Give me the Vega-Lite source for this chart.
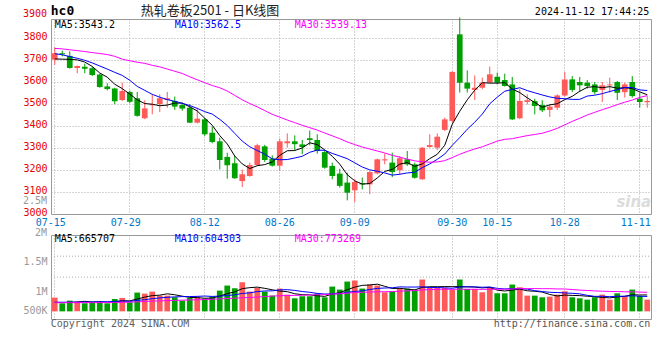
{
"$schema": "https://vega.github.io/schema/vega-lite/v6.json",
"padding": {"left": 22, "top": 4, "right": 0, "bottom": 0},
"background": "white",
"bounds": "flush",
"spacing": 21,
"config": {"view": {"stroke": "#999", "strokeWidth": 1}},
"datasets": {
"k": [
{"d":"07-15","o":3703,"h":3759,"l":3679,"c":3732,"v":558000,"m5":3706,"m10":3730,"m30":3754,"a5":360000,"a10":372000,"a30":354000},
{"d":"07-16","o":3732,"h":3744,"l":3718,"c":3727,"v":326000,"m5":3705,"m10":3725,"m30":3752,"a5":358000,"a10":370000,"a30":354000},
{"d":"07-17","o":3720,"h":3741,"l":3662,"c":3665,"v":435000,"m5":3704,"m10":3717,"m30":3748,"a5":362000,"a10":372000,"a30":354000},
{"d":"07-18","o":3665,"h":3676,"l":3641,"c":3674,"v":394000,"m5":3702,"m10":3709,"m30":3744,"a5":380000,"a10":375000,"a30":354000},
{"d":"07-19","o":3670,"h":3685,"l":3641,"c":3661,"v":326000,"m5":3692,"m10":3700,"m30":3740,"a5":408000,"a10":378000,"a30":355000},
{"d":"07-22","o":3664,"h":3670,"l":3628,"c":3633,"v":394000,"m5":3672,"m10":3688,"m30":3735,"a5":375000,"a10":382000,"a30":355000},
{"d":"07-23","o":3635,"h":3638,"l":3575,"c":3578,"v":394000,"m5":3642,"m10":3674,"m30":3731,"a5":389000,"a10":386000,"a30":356000},
{"d":"07-24","o":3581,"h":3595,"l":3563,"c":3569,"v":326000,"m5":3623,"m10":3660,"m30":3726,"a5":367000,"a10":390000,"a30":358000},
{"d":"07-25","o":3572,"h":3575,"l":3500,"c":3514,"v":503000,"m5":3591,"m10":3645,"m30":3718,"a5":389000,"a10":400000,"a30":362000},
{"d":"07-26","o":3519,"h":3598,"l":3515,"c":3560,"v":544000,"m5":3571,"m10":3631,"m30":3705,"a5":432000,"a10":420000,"a30":368000},
{"d":"07-29","o":3556,"h":3562,"l":3505,"c":3511,"v":367000,"m5":3546,"m10":3609,"m30":3698,"a5":427000,"a10":401000,"a30":375000},
{"d":"07-30","o":3527,"h":3556,"l":3443,"c":3447,"v":762000,"m5":3520,"m10":3581,"m30":3691,"a5":500000,"a10":445000,"a30":385000},
{"d":"07-31","o":3436,"h":3518,"l":3432,"c":3481,"v":721000,"m5":3503,"m10":3563,"m30":3686,"a5":579000,"a10":473000,"a30":400000},
{"d":"08-01","o":3495,"h":3545,"l":3454,"c":3500,"v":802000,"m5":3500,"m10":3545,"m30":3677,"a5":639000,"a10":514000,"a30":415000},
{"d":"08-02","o":3500,"h":3545,"l":3464,"c":3527,"v":639000,"m5":3493,"m10":3532,"m30":3670,"a5":658000,"a10":545000,"a30":425000},
{"d":"08-05","o":3519,"h":3556,"l":3484,"c":3527,"v":639000,"m5":3496,"m10":3521,"m30":3660,"a5":713000,"a10":570000,"a30":435000},
{"d":"08-06","o":3515,"h":3535,"l":3474,"c":3489,"v":571000,"m5":3505,"m10":3513,"m30":3650,"a5":674000,"a10":587000,"a30":445000},
{"d":"08-07","o":3496,"h":3507,"l":3470,"c":3480,"v":435000,"m5":3505,"m10":3504,"m30":3640,"a5":617000,"a10":598000,"a30":455000},
{"d":"08-08","o":3484,"h":3500,"l":3414,"c":3416,"v":544000,"m5":3488,"m10":3494,"m30":3625,"a5":566000,"a10":602000,"a30":462000},
{"d":"08-09","o":3416,"h":3484,"l":3412,"c":3434,"v":598000,"m5":3469,"m10":3481,"m30":3611,"a5":557000,"a10":608000,"a30":470000},
{"d":"08-12","o":3431,"h":3437,"l":3355,"c":3363,"v":517000,"m5":3436,"m10":3466,"m30":3598,"a5":533000,"a10":623000,"a30":480000},
{"d":"08-13","o":3370,"h":3398,"l":3322,"c":3328,"v":598000,"m5":3404,"m10":3455,"m30":3585,"a5":538000,"a10":606000,"a30":490000},
{"d":"08-14","o":3331,"h":3348,"l":3203,"c":3246,"v":843000,"m5":3357,"m10":3431,"m30":3575,"a5":620000,"a10":619000,"a30":505000},
{"d":"08-15","o":3260,"h":3279,"l":3161,"c":3222,"v":1047000,"m5":3319,"m10":3403,"m30":3560,"a5":721000,"a10":643000,"a30":520000},
{"d":"08-16","o":3231,"h":3264,"l":3160,"c":3163,"v":938000,"m5":3264,"m10":3367,"m30":3540,"a5":789000,"a10":673000,"a30":535000},
{"d":"08-19","o":3150,"h":3203,"l":3123,"c":3181,"v":1183000,"m5":3228,"m10":3332,"m30":3520,"a5":922000,"a10":727000,"a30":550000},
{"d":"08-20","o":3173,"h":3234,"l":3170,"c":3223,"v":802000,"m5":3207,"m10":3306,"m30":3503,"a5":963000,"a10":751000,"a30":565000},
{"d":"08-21","o":3223,"h":3320,"l":3219,"c":3313,"v":952000,"m5":3220,"m10":3289,"m30":3488,"a5":984000,"a10":802000,"a30":580000},
{"d":"08-22","o":3308,"h":3315,"l":3237,"c":3246,"v":802000,"m5":3225,"m10":3272,"m30":3471,"a5":935000,"a10":828000,"a30":600000},
{"d":"08-23","o":3252,"h":3267,"l":3216,"c":3220,"v":639000,"m5":3237,"m10":3251,"m30":3454,"a5":876000,"a10":832000,"a30":620000},
{"d":"08-26","o":3220,"h":3343,"l":3196,"c":3331,"v":925000,"m5":3267,"m10":3247,"m30":3441,"a5":824000,"a10":873000,"a30":632000},
{"d":"08-27","o":3322,"h":3367,"l":3302,"c":3331,"v":680000,"m5":3288,"m10":3248,"m30":3428,"a5":800000,"a10":881000,"a30":644000},
{"d":"08-28","o":3331,"h":3358,"l":3290,"c":3318,"v":530000,"m5":3289,"m10":3255,"m30":3416,"a5":715000,"a10":850000,"a30":647000},
{"d":"08-29","o":3317,"h":3337,"l":3272,"c":3305,"v":612000,"m5":3301,"m10":3263,"m30":3404,"a5":677000,"a10":806000,"a30":654000},
{"d":"08-30","o":3345,"h":3380,"l":3313,"c":3337,"v":612000,"m5":3324,"m10":3281,"m30":3393,"a5":672000,"a10":774000,"a30":664000},
{"d":"09-02","o":3337,"h":3363,"l":3275,"c":3287,"v":721000,"m5":3316,"m10":3291,"m30":3382,"a5":631000,"a10":728000,"a30":675000},
{"d":"09-03","o":3282,"h":3290,"l":3206,"c":3211,"v":571000,"m5":3292,"m10":3290,"m30":3369,"a5":609000,"a10":704000,"a30":681000},
{"d":"09-04","o":3219,"h":3234,"l":3158,"c":3173,"v":1006000,"m5":3263,"m10":3276,"m30":3356,"a5":704000,"a10":710000,"a30":703000},
{"d":"09-05","o":3184,"h":3206,"l":3120,"c":3128,"v":884000,"m5":3227,"m10":3264,"m30":3343,"a5":759000,"a10":718000,"a30":716000},
{"d":"09-06","o":3143,"h":3188,"l":3062,"c":3097,"v":1210000,"m5":3179,"m10":3252,"m30":3328,"a5":878000,"a10":775000,"a30":738000},
{"d":"09-09","o":3108,"h":3158,"l":3055,"c":3146,"v":1251000,"m5":3151,"m10":3233,"m30":3316,"a5":984000,"a10":808000,"a30":768000},
{"d":"09-10","o":3140,"h":3166,"l":3112,"c":3135,"v":925000,"m5":3136,"m10":3214,"m30":3305,"a5":1055000,"a10":832000,"a30":773000},
{"d":"09-11","o":3135,"h":3196,"l":3090,"c":3191,"v":1088000,"m5":3139,"m10":3201,"m30":3296,"a5":1072000,"a10":888000,"a30":785000},
{"d":"09-12","o":3185,"h":3252,"l":3181,"c":3249,"v":1047000,"m5":3164,"m10":3195,"m30":3287,"a5":1104000,"a10":932000,"a30":794000},
{"d":"09-13","o":3244,"h":3276,"l":3226,"c":3249,"v":775000,"m5":3194,"m10":3187,"m30":3278,"a5":1017000,"a10":948000,"a30":798000},
{"d":"09-18","o":3234,"h":3279,"l":3168,"c":3191,"v":816000,"m5":3203,"m10":3177,"m30":3267,"a5":930000,"a10":957000,"a30":804000},
{"d":"09-19","o":3199,"h":3264,"l":3178,"c":3254,"v":952000,"m5":3227,"m10":3181,"m30":3259,"a5":936000,"a10":995000,"a30":817000},
{"d":"09-20","o":3249,"h":3287,"l":3219,"c":3226,"v":925000,"m5":3234,"m10":3187,"m30":3250,"a5":903000,"a10":987000,"a30":833000},
{"d":"09-23","o":3226,"h":3234,"l":3161,"c":3165,"v":884000,"m5":3217,"m10":3190,"m30":3242,"a5":870000,"a10":987000,"a30":844000},
{"d":"09-24","o":3158,"h":3305,"l":3156,"c":3302,"v":1292000,"m5":3228,"m10":3211,"m30":3238,"a5":974000,"a10":996000,"a30":868000},
{"d":"09-25","o":3305,"h":3363,"l":3302,"c":3314,"v":952000,"m5":3252,"m10":3228,"m30":3236,"a5":1001000,"a10":966000,"a30":882000},
{"d":"09-26","o":3302,"h":3367,"l":3291,"c":3352,"v":952000,"m5":3272,"m10":3249,"m30":3237,"a5":1001000,"a10":968000,"a30":894000},
{"d":"09-27","o":3383,"h":3439,"l":3378,"c":3431,"v":952000,"m5":3313,"m10":3273,"m30":3243,"a5":1006000,"a10":955000,"a30":898000},
{"d":"09-30","o":3424,"h":3650,"l":3416,"c":3647,"v":870000,"m5":3409,"m10":3313,"m30":3257,"a5":1004000,"a10":937000,"a30":892000},
{"d":"10-08","o":3818,"h":3895,"l":3553,"c":3598,"v":1292000,"m5":3468,"m10":3348,"m30":3272,"a5":1004000,"a10":989000,"a30":903000},
{"d":"10-09","o":3598,"h":3654,"l":3553,"c":3571,"v":911000,"m5":3520,"m10":3386,"m30":3285,"a5":995000,"a10":998000,"a30":894000},
{"d":"10-10","o":3565,"h":3631,"l":3519,"c":3575,"v":911000,"m5":3564,"m10":3418,"m30":3296,"a5":987000,"a10":994000,"a30":898000},
{"d":"10-11","o":3575,"h":3621,"l":3568,"c":3598,"v":775000,"m5":3598,"m10":3455,"m30":3306,"a5":952000,"a10":979000,"a30":892000},
{"d":"10-14","o":3598,"h":3671,"l":3595,"c":3636,"v":979000,"m5":3596,"m10":3502,"m30":3319,"a5":974000,"a10":989000,"a30":898000},
{"d":"10-15","o":3625,"h":3644,"l":3590,"c":3598,"v":734000,"m5":3596,"m10":3532,"m30":3332,"a5":862000,"a10":933000,"a30":901000},
{"d":"10-16","o":3610,"h":3639,"l":3580,"c":3583,"v":734000,"m5":3598,"m10":3559,"m30":3340,"a5":827000,"a10":911000,"a30":895000},
{"d":"10-17","o":3590,"h":3624,"l":3428,"c":3431,"v":1088000,"m5":3569,"m10":3567,"m30":3343,"a5":862000,"a10":925000,"a30":908000},
{"d":"10-18","o":3436,"h":3568,"l":3432,"c":3515,"v":979000,"m5":3553,"m10":3575,"m30":3350,"a5":903000,"a10":927000,"a30":923000},
{"d":"10-21","o":3510,"h":3545,"l":3499,"c":3518,"v":639000,"m5":3529,"m10":3562,"m30":3357,"a5":835000,"a10":904000,"a30":924000},
{"d":"10-22","o":3514,"h":3525,"l":3454,"c":3492,"v":639000,"m5":3508,"m10":3552,"m30":3362,"a5":816000,"a10":839000,"a30":925000},
{"d":"10-23","o":3496,"h":3518,"l":3464,"c":3472,"v":571000,"m5":3486,"m10":3542,"m30":3368,"a5":783000,"a10":805000,"a30":920000},
{"d":"10-24","o":3474,"h":3499,"l":3442,"c":3489,"v":598000,"m5":3497,"m10":3533,"m30":3378,"a5":685000,"a10":774000,"a30":921000},
{"d":"10-25","o":3484,"h":3545,"l":3474,"c":3540,"v":680000,"m5":3502,"m10":3527,"m30":3390,"a5":625000,"a10":764000,"a30":910000},
{"d":"10-28","o":3540,"h":3647,"l":3534,"c":3613,"v":816000,"m5":3521,"m10":3525,"m30":3406,"a5":661000,"a10":748000,"a30":908000},
{"d":"10-29","o":3613,"h":3628,"l":3555,"c":3565,"v":571000,"m5":3536,"m10":3522,"m30":3422,"a5":647000,"a10":732000,"a30":887000},
{"d":"10-30","o":3601,"h":3624,"l":3555,"c":3586,"v":530000,"m5":3559,"m10":3522,"m30":3436,"a5":639000,"a10":711000,"a30":863000},
{"d":"10-31","o":3598,"h":3610,"l":3571,"c":3583,"v":476000,"m5":3577,"m10":3537,"m30":3451,"a5":615000,"a10":650000,"a30":848000},
{"d":"11-01","o":3590,"h":3601,"l":3545,"c":3555,"v":571000,"m5":3580,"m10":3541,"m30":3463,"a5":593000,"a10":609000,"a30":830000},
{"d":"11-04","o":3565,"h":3601,"l":3510,"c":3586,"v":680000,"m5":3575,"m10":3548,"m30":3475,"a5":566000,"a10":613000,"a30":818000},
{"d":"11-05","o":3586,"h":3621,"l":3552,"c":3590,"v":476000,"m5":3580,"m10":3558,"m30":3486,"a5":547000,"a10":597000,"a30":808000},
{"d":"11-06","o":3601,"h":3606,"l":3519,"c":3552,"v":734000,"m5":3573,"m10":3566,"m30":3498,"a5":587000,"a10":613000,"a30":805000},
{"d":"11-07","o":3555,"h":3598,"l":3530,"c":3590,"v":598000,"m5":3575,"m10":3576,"m30":3509,"a5":612000,"a10":613000,"a30":794000},
{"d":"11-08","o":3601,"h":3628,"l":3530,"c":3537,"v":884000,"m5":3571,"m10":3576,"m30":3519,"a5":674000,"a10":634000,"a30":792000},
{"d":"11-11","o":3525,"h":3553,"l":3484,"c":3510,"v":626000,"m5":3556,"m10":3565,"m30":3531,"a5":664000,"a10":615000,"a30":784000},
{"d":"11-12","o":3509,"h":3537,"l":3484,"c":3515,"v":476000,"m5":3543.2,"m10":3562.5,"m30":3539.13,"a5":665707,"a10":604303,"a30":773269}
],
"vg": [{"g": 2240000}, {"g": 1390000}]
},
"vconcat": [
{
"width": 600, "height": 195,
"data": {"name": "k"},
"encoding": {
  "x": {"field": "d", "type": "ordinal", "title": null, "scale": {"type": "band", "paddingInner": 0, "paddingOuter": 0},
   "axis": {"values": ["07-15","07-29","08-12","08-26","09-09","09-30","10-15","10-28","11-11"], "bandPosition": 0.5, "grid": true, "gridColor": "#aaaaaa", "gridDash": [1, 2], "ticks": false, "domain": false, "labelAngle": 0, "labelOverlap": false, "labelColor": "#0078c8", "labelFont": "DejaVu Sans Mono", "labelFontSize": 10, "labelPadding": 3, "labelOffset": {"condition": {"test": "datum.value == '07-15' || datum.value == '07-29' || datum.value == '11-11'", "value": -4}, "value": 0}, "title": null}}
},
"layer": [
{"mark": {"type": "rule", "strokeWidth": 1},
 "encoding": {
  "y": {"field": "l", "type": "quantitative", "title": null, "scale": {"domain": [3000, 3888], "nice": false, "zero": false},
   "axis": {"values": [3000,3100,3200,3300,3400,3500,3600,3700,3800], "format": "d", "labelOverlap": false, "grid": true, "gridColor": "#aaaaaa", "gridDash": [1, 2], "gridOpacity": {"condition": {"test": "datum.value < 3050", "value": 0}, "value": 1}, "ticks": false, "domain": false, "labelColor": "#e60000", "labelFont": "DejaVu Sans Mono", "labelFontSize": 10, "labelPadding": 4, "labelOffset": -2, "title": null}},
  "y2": {"field": "h"},
  "color": {"condition": {"test": "datum.c >= datum.o", "value": "#ff5a5a"}, "value": "#00a000"}}},
{"mark": {"type": "bar", "width": {"band": 0.76}},
 "encoding": {
  "y": {"field": "o", "type": "quantitative", "title": null, "scale": {"domain": [3000, 3888], "nice": false, "zero": false},
   "axis": {"values": [3000,3100,3200,3300,3400,3500,3600,3700,3800], "format": "d", "labelOverlap": false, "grid": true, "gridColor": "#aaaaaa", "gridDash": [1, 2], "gridOpacity": {"condition": {"test": "datum.value < 3050", "value": 0}, "value": 1}, "ticks": false, "domain": false, "labelColor": "#e60000", "labelFont": "DejaVu Sans Mono", "labelFontSize": 10, "labelPadding": 4, "labelOffset": -2, "title": null}},
  "y2": {"field": "c"},
  "color": {"condition": {"test": "datum.c >= datum.o", "value": "#ff5a5a"}, "value": "#00a000"}}},
{"mark": {"type": "line", "color": "#000000", "strokeWidth": 1},
 "encoding": {"y": {"field": "m5", "type": "quantitative", "title": null, "scale": {"domain": [3000, 3888], "nice": false, "zero": false},
   "axis": {"values": [3000,3100,3200,3300,3400,3500,3600,3700,3800], "format": "d", "labelOverlap": false, "grid": true, "gridColor": "#aaaaaa", "gridDash": [1, 2], "gridOpacity": {"condition": {"test": "datum.value < 3050", "value": 0}, "value": 1}, "ticks": false, "domain": false, "labelColor": "#e60000", "labelFont": "DejaVu Sans Mono", "labelFontSize": 10, "labelPadding": 4, "labelOffset": -2, "title": null}}}},
{"mark": {"type": "line", "color": "#0000ff", "strokeWidth": 1},
 "encoding": {"y": {"field": "m10", "type": "quantitative", "title": null, "scale": {"domain": [3000, 3888], "nice": false, "zero": false},
   "axis": {"values": [3000,3100,3200,3300,3400,3500,3600,3700,3800], "format": "d", "labelOverlap": false, "grid": true, "gridColor": "#aaaaaa", "gridDash": [1, 2], "gridOpacity": {"condition": {"test": "datum.value < 3050", "value": 0}, "value": 1}, "ticks": false, "domain": false, "labelColor": "#e60000", "labelFont": "DejaVu Sans Mono", "labelFontSize": 10, "labelPadding": 4, "labelOffset": -2, "title": null}}}},
{"mark": {"type": "line", "color": "#ff00ff", "strokeWidth": 1},
 "encoding": {"y": {"field": "m30", "type": "quantitative", "title": null, "scale": {"domain": [3000, 3888], "nice": false, "zero": false},
   "axis": {"values": [3000,3100,3200,3300,3400,3500,3600,3700,3800], "format": "d", "labelOverlap": false, "grid": true, "gridColor": "#aaaaaa", "gridDash": [1, 2], "gridOpacity": {"condition": {"test": "datum.value < 3050", "value": 0}, "value": 1}, "ticks": false, "domain": false, "labelColor": "#e60000", "labelFont": "DejaVu Sans Mono", "labelFontSize": 10, "labelPadding": 4, "labelOffset": -2, "title": null}}}},
{"data": {"values": [{"t": "sina", "d": "11-12", "y": 3030}]},
 "mark": {"type": "text", "align": "right", "baseline": "alphabetic", "dx": 4, "font": "DejaVu Sans", "fontWeight": "bold", "fontStyle": "italic", "fontSize": 15, "color": "#dcdcdc"},
 "encoding": {"y": {"field": "y", "type": "quantitative", "title": null, "scale": {"domain": [3000, 3888], "nice": false, "zero": false},
   "axis": {"values": [3000,3100,3200,3300,3400,3500,3600,3700,3800], "format": "d", "labelOverlap": false, "grid": true, "gridColor": "#aaaaaa", "gridDash": [1, 2], "gridOpacity": {"condition": {"test": "datum.value < 3050", "value": 0}, "value": 1}, "ticks": false, "domain": false, "labelColor": "#e60000", "labelFont": "DejaVu Sans Mono", "labelFontSize": 10, "labelPadding": 4, "labelOffset": -2, "title": null}},
  "text": {"field": "t", "type": "nominal"}}},
{"data": {"values": [
   {"t": "MA5:3543.2", "d": "07-15", "y": 3860, "col": "a"},
   {"t": "MA10:3562.5", "d": "08-06", "y": 3860, "col": "b"},
   {"t": "MA30:3539.13", "d": "08-28", "y": 3860, "col": "c"}
 ]},
 "mark": {"type": "text", "align": "left", "baseline": "middle", "font": "DejaVu Sans Mono", "fontSize": 10},
 "encoding": {"y": {"field": "y", "type": "quantitative", "title": null, "scale": {"domain": [3000, 3888], "nice": false, "zero": false},
   "axis": {"values": [3000,3100,3200,3300,3400,3500,3600,3700,3800], "format": "d", "labelOverlap": false, "grid": true, "gridColor": "#aaaaaa", "gridDash": [1, 2], "gridOpacity": {"condition": {"test": "datum.value < 3050", "value": 0}, "value": 1}, "ticks": false, "domain": false, "labelColor": "#e60000", "labelFont": "DejaVu Sans Mono", "labelFontSize": 10, "labelPadding": 4, "labelOffset": -2, "title": null}},
  "text": {"field": "t", "type": "nominal"},
  "color": {"field": "col", "type": "nominal", "scale": {"domain": ["a", "b", "c"], "range": ["#000000", "#0000ff", "#ff00ff"]}, "legend": null}}},
{"data": {"values": [{"t": "2024-11-12 17:44:25", "d": "11-12", "y": 3919}]},
 "mark": {"type": "text", "align": "right", "baseline": "middle", "dx": 2, "font": "DejaVu Sans Mono", "fontSize": 10, "color": "#000000"},
 "encoding": {"y": {"field": "y", "type": "quantitative", "title": null, "scale": {"domain": [3000, 3888], "nice": false, "zero": false},
   "axis": {"values": [3000,3100,3200,3300,3400,3500,3600,3700,3800], "format": "d", "labelOverlap": false, "grid": true, "gridColor": "#aaaaaa", "gridDash": [1, 2], "gridOpacity": {"condition": {"test": "datum.value < 3050", "value": 0}, "value": 1}, "ticks": false, "domain": false, "labelColor": "#e60000", "labelFont": "DejaVu Sans Mono", "labelFontSize": 10, "labelPadding": 4, "labelOffset": -2, "title": null}},
  "text": {"field": "t", "type": "nominal"}}},
{"data": {"values": [{"t": "3900", "d": "07-15", "y": 3900}]},
 "mark": {"type": "text", "align": "right", "baseline": "middle", "dx": -7.75, "dy": -2, "font": "DejaVu Sans Mono", "fontSize": 10, "color": "#e60000"},
 "encoding": {"y": {"field": "y", "type": "quantitative", "title": null, "scale": {"domain": [3000, 3888], "nice": false, "zero": false},
   "axis": {"values": [3000,3100,3200,3300,3400,3500,3600,3700,3800], "format": "d", "labelOverlap": false, "grid": true, "gridColor": "#aaaaaa", "gridDash": [1, 2], "gridOpacity": {"condition": {"test": "datum.value < 3050", "value": 0}, "value": 1}, "ticks": false, "domain": false, "labelColor": "#e60000", "labelFont": "DejaVu Sans Mono", "labelFontSize": 10, "labelPadding": 4, "labelOffset": -2, "title": null}},
  "text": {"field": "t", "type": "nominal"}}},
{"data": {"values": [{"t": "hc0", "d": "07-15", "y": 3925}]},
 "mark": {"type": "text", "align": "left", "baseline": "middle", "dx": -4, "font": "DejaVu Sans Mono", "fontWeight": "bold", "fontSize": 13, "color": "#000000"},
 "encoding": {"y": {"field": "y", "type": "quantitative", "title": null, "scale": {"domain": [3000, 3888], "nice": false, "zero": false},
   "axis": {"values": [3000,3100,3200,3300,3400,3500,3600,3700,3800], "format": "d", "labelOverlap": false, "grid": true, "gridColor": "#aaaaaa", "gridDash": [1, 2], "gridOpacity": {"condition": {"test": "datum.value < 3050", "value": 0}, "value": 1}, "ticks": false, "domain": false, "labelColor": "#e60000", "labelFont": "DejaVu Sans Mono", "labelFontSize": 10, "labelPadding": 4, "labelOffset": -2, "title": null}},
  "text": {"field": "t", "type": "nominal"}}},
{"data": {"values": [{"t": "热轧卷板2501 - 日K线图", "d": "07-31", "y": 3926}]},
 "mark": {"type": "text", "align": "left", "baseline": "middle", "dx": -4, "font": "Noto Sans CJK SC", "fontSize": 13, "color": "#222222"},
 "encoding": {"y": {"field": "y", "type": "quantitative", "title": null, "scale": {"domain": [3000, 3888], "nice": false, "zero": false},
   "axis": {"values": [3000,3100,3200,3300,3400,3500,3600,3700,3800], "format": "d", "labelOverlap": false, "grid": true, "gridColor": "#aaaaaa", "gridDash": [1, 2], "gridOpacity": {"condition": {"test": "datum.value < 3050", "value": 0}, "value": 1}, "ticks": false, "domain": false, "labelColor": "#e60000", "labelFont": "DejaVu Sans Mono", "labelFontSize": 10, "labelPadding": 4, "labelOffset": -2, "title": null}},
  "text": {"field": "t", "type": "nominal"}}}
]
},
{
"width": 600, "height": 84,
"data": {"name": "k"},
"encoding": {
  "x": {"field": "d", "type": "ordinal", "title": null, "scale": {"type": "band", "paddingInner": 0, "paddingOuter": 0},
   "axis": {"values": ["07-15","07-29","08-12","08-26","09-09","09-30","10-15","10-28","11-11"], "bandPosition": 0.5, "grid": true, "gridColor": "#aaaaaa", "gridDash": [1, 2], "ticks": false, "domain": false, "labels": false, "title": null}}
},
"layer": [
{"mark": {"type": "bar", "width": {"band": 0.76}},
 "encoding": {
  "y": {"field": "v", "type": "quantitative", "title": null, "scale": {"domain": [-310000, 3100000], "nice": false, "zero": false},
   "axis": {"values": [2024000, 807000, 35000], "labelExpr": "datum.value > 1500000 ? '1.5M' : datum.value > 500000 ? '1M' : '500K'", "labelOverlap": false, "grid": false, "ticks": false, "domain": false, "labelColor": "#999999", "labelFont": "DejaVu Sans Mono", "labelFontSize": 10, "labelPadding": 4, "title": null}},
  "y2": {"datum": 0},
  "color": {"condition": {"test": "datum.c >= datum.o", "value": "#ff5a5a"}, "value": "#00a000"}}},
{"data": {"name": "vg"},
 "mark": {"type": "rule", "color": "#aaaaaa", "strokeDash": [1, 2], "strokeWidth": 1, "x": 0, "x2": {"expr": "width"}},
 "encoding": {"x": null, "y": {"field": "g", "type": "quantitative", "title": null, "scale": {"domain": [-310000, 3100000], "nice": false, "zero": false},
   "axis": {"values": [2024000, 807000, 35000], "labelExpr": "datum.value > 1500000 ? '1.5M' : datum.value > 500000 ? '1M' : '500K'", "labelOverlap": false, "grid": false, "ticks": false, "domain": false, "labelColor": "#999999", "labelFont": "DejaVu Sans Mono", "labelFontSize": 10, "labelPadding": 4, "title": null}}}},
{"mark": {"type": "line", "color": "#000000", "strokeWidth": 1},
 "encoding": {"y": {"field": "a5", "type": "quantitative", "title": null, "scale": {"domain": [-310000, 3100000], "nice": false, "zero": false},
   "axis": {"values": [2024000, 807000, 35000], "labelExpr": "datum.value > 1500000 ? '1.5M' : datum.value > 500000 ? '1M' : '500K'", "labelOverlap": false, "grid": false, "ticks": false, "domain": false, "labelColor": "#999999", "labelFont": "DejaVu Sans Mono", "labelFontSize": 10, "labelPadding": 4, "title": null}}}},
{"mark": {"type": "line", "color": "#0000ff", "strokeWidth": 1},
 "encoding": {"y": {"field": "a10", "type": "quantitative", "title": null, "scale": {"domain": [-310000, 3100000], "nice": false, "zero": false},
   "axis": {"values": [2024000, 807000, 35000], "labelExpr": "datum.value > 1500000 ? '1.5M' : datum.value > 500000 ? '1M' : '500K'", "labelOverlap": false, "grid": false, "ticks": false, "domain": false, "labelColor": "#999999", "labelFont": "DejaVu Sans Mono", "labelFontSize": 10, "labelPadding": 4, "title": null}}}},
{"mark": {"type": "line", "color": "#ff00ff", "strokeWidth": 1},
 "encoding": {"y": {"field": "a30", "type": "quantitative", "title": null, "scale": {"domain": [-310000, 3100000], "nice": false, "zero": false},
   "axis": {"values": [2024000, 807000, 35000], "labelExpr": "datum.value > 1500000 ? '1.5M' : datum.value > 500000 ? '1M' : '500K'", "labelOverlap": false, "grid": false, "ticks": false, "domain": false, "labelColor": "#999999", "labelFont": "DejaVu Sans Mono", "labelFontSize": 10, "labelPadding": 4, "title": null}}}},
{"data": {"values": [
   {"t": "MA5:665707", "d": "07-15", "y": 2938000, "col": "a"},
   {"t": "MA10:604303", "d": "08-06", "y": 2938000, "col": "b"},
   {"t": "MA30:773269", "d": "08-28", "y": 2938000, "col": "c"}
 ]},
 "mark": {"type": "text", "align": "left", "baseline": "middle", "font": "DejaVu Sans Mono", "fontSize": 10},
 "encoding": {"y": {"field": "y", "type": "quantitative", "title": null, "scale": {"domain": [-310000, 3100000], "nice": false, "zero": false},
   "axis": {"values": [2024000, 807000, 35000], "labelExpr": "datum.value > 1500000 ? '1.5M' : datum.value > 500000 ? '1M' : '500K'", "labelOverlap": false, "grid": false, "ticks": false, "domain": false, "labelColor": "#999999", "labelFont": "DejaVu Sans Mono", "labelFontSize": 10, "labelPadding": 4, "title": null}},
  "text": {"field": "t", "type": "nominal"},
  "color": {"field": "col", "type": "nominal", "scale": {"domain": ["a", "b", "c"], "range": ["#000000", "#0000ff", "#ff00ff"]}, "legend": null}}},
{"data": {"values": [{"t": "Copyright 2024 SINA.COM", "d": "07-15", "y": -533000}]},
 "mark": {"type": "text", "align": "left", "baseline": "middle", "dx": -4, "font": "DejaVu Sans Mono", "fontSize": 10, "color": "#606060"},
 "encoding": {"y": {"field": "y", "type": "quantitative", "title": null, "scale": {"domain": [-310000, 3100000], "nice": false, "zero": false},
   "axis": {"values": [2024000, 807000, 35000], "labelExpr": "datum.value > 1500000 ? '1.5M' : datum.value > 500000 ? '1M' : '500K'", "labelOverlap": false, "grid": false, "ticks": false, "domain": false, "labelColor": "#999999", "labelFont": "DejaVu Sans Mono", "labelFontSize": 10, "labelPadding": 4, "title": null}},
  "text": {"field": "t", "type": "nominal"}}},
{"data": {"values": [{"t": "http://finance.sina.com.cn", "d": "11-12", "y": -533000}]},
 "mark": {"type": "text", "align": "right", "baseline": "middle", "dx": 3, "font": "DejaVu Sans Mono", "fontSize": 10, "color": "#555555"},
 "encoding": {"y": {"field": "y", "type": "quantitative", "title": null, "scale": {"domain": [-310000, 3100000], "nice": false, "zero": false},
   "axis": {"values": [2024000, 807000, 35000], "labelExpr": "datum.value > 1500000 ? '1.5M' : datum.value > 500000 ? '1M' : '500K'", "labelOverlap": false, "grid": false, "ticks": false, "domain": false, "labelColor": "#999999", "labelFont": "DejaVu Sans Mono", "labelFontSize": 10, "labelPadding": 4, "title": null}},
  "text": {"field": "t", "type": "nominal"}}},
{"data": {"values": [{"t": "2M", "d": "07-15", "y": 3190000}, {"t": "2.5M", "d": "07-15", "y": 4500000}]},
 "mark": {"type": "text", "align": "right", "baseline": "middle", "dx": -7.75, "font": "DejaVu Sans Mono", "fontSize": 10, "color": "#999999"},
 "encoding": {"y": {"field": "y", "type": "quantitative", "title": null, "scale": {"domain": [-310000, 3100000], "nice": false, "zero": false},
   "axis": {"values": [2024000, 807000, 35000], "labelExpr": "datum.value > 1500000 ? '1.5M' : datum.value > 500000 ? '1M' : '500K'", "labelOverlap": false, "grid": false, "ticks": false, "domain": false, "labelColor": "#999999", "labelFont": "DejaVu Sans Mono", "labelFontSize": 10, "labelPadding": 4, "title": null}},
  "text": {"field": "t", "type": "nominal"}}}
]
}
]
}
